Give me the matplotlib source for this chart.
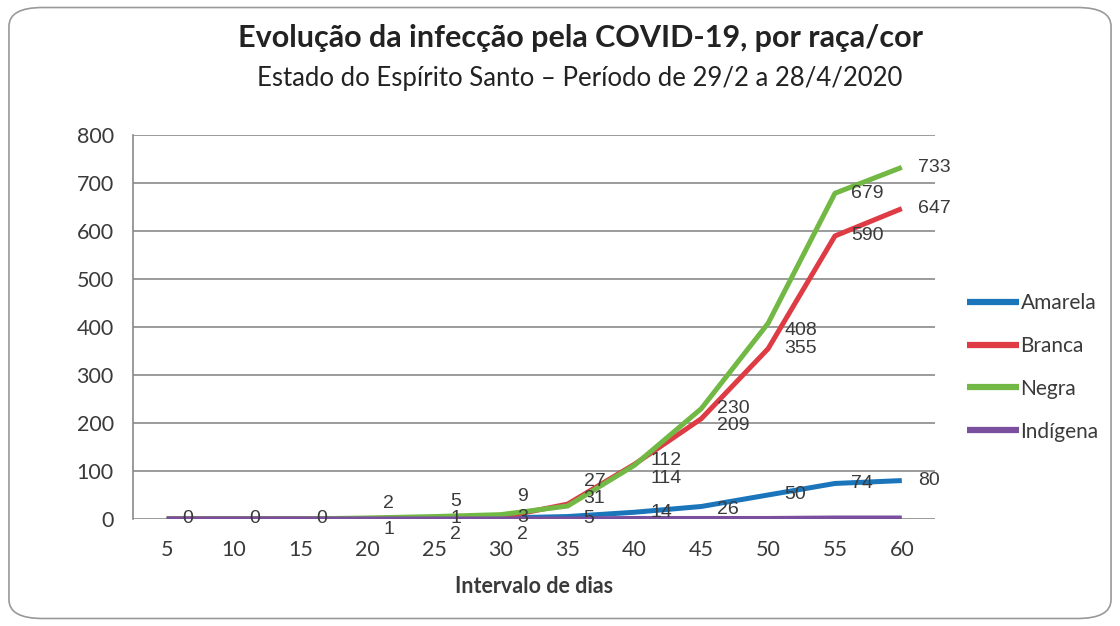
import matplotlib
matplotlib.use("Agg")
import matplotlib.pyplot as plt
from matplotlib.patches import FancyBboxPatch

days = [5, 10, 15, 20, 25, 30, 35, 40, 45, 50, 55, 60]
amarela = [0, 0, 0, 0, 2, 2, 5, 14, 26, 50, 74, 80]
branca = [0, 0, 0, 1, 1, 3, 31, 114, 209, 355, 590, 647]
negra = [0, 0, 0, 2, 5, 9, 27, 112, 230, 408, 679, 733]
indigena = [0, 0, 0, 0, 0, 0, 0, 1, 1, 1, 2, 2]

# which points carry a data label, and vertical nudge of the label (pixels, + = up)
negra_show = [1, 1, 1, 1, 1, 1, 1, 1, 1, 1, 1, 1]
negra_dy = [0, 0, 0, 14, 15, 18, 25, 5, 0, -7, 0, 0]
branca_show = [0, 0, 0, 1, 1, 1, 1, 1, 1, 1, 1, 1]
branca_dy = [0, 0, 0, -11, 0, 0, 6, -14, -7, 0, 0, 0]
amarela_show = [0, 0, 0, 0, 1, 1, 1, 1, 1, 1, 1, 1]
amarela_dy = [0, 0, 0, 0, -17, -17, -2, 0, -3, 0, 0, 0]

series = [
    ("Amarela", amarela, "#1b75bb"),
    ("Branca", branca, "#de3b45"),
    ("Negra", negra, "#72b844"),
    ("Indígena", indigena, "#7a4f9e"),
]

plt.rcParams["font.family"] = ["Lato", "DejaVu Sans"]
txt = "#3a3a3a"

fig = plt.figure(figsize=(11.2, 6.26), dpi=100)
ax = fig.add_axes([0.119, 0.171, 0.716, 0.613])

for name, vals, color in series:
    ax.plot(days, vals, color=color, lw=3.6, label=name, solid_capstyle="butt")

label_sets = [
    (negra, negra_show, negra_dy),
    (branca, branca_show, branca_dy),
    (amarela, amarela_show, amarela_dy),
]
for vals, show, dy in label_sets:
    for x, v, s, d in zip(days, vals, show, dy):
        if not s:
            continue
        ax.annotate(str(v), (x, v), xytext=(16, d), textcoords="offset pixels",
                    ha="left", va="center", fontsize=14, color=txt,
                    family=["Liberation Sans", "DejaVu Sans"])

ax.set_xlim(2.5, 62.5)
ax.set_ylim(0, 800)
ax.set_xticks(days)
ax.set_yticks(range(0, 801, 100))
ax.grid(axis="y", color="#8a8a8a", lw=1.2)
ax.set_axisbelow(True)
for side in ["top", "right", "bottom"]:
    ax.spines[side].set_visible(False)
ax.spines["left"].set_color("#8a8a8a")
ax.spines["left"].set_linewidth(1.2)
ax.tick_params(axis="both", length=0, labelsize=15.5, colors=txt)
ax.tick_params(axis="y", pad=14)
ax.tick_params(axis="x", pad=15)
ax.set_xlabel("Intervalo de dias", fontsize=15.5, fontweight="bold", color=txt, labelpad=12)

fig.text(0.518, 0.94, "Evolução da infecção pela COVID-19, por raça/cor",
         ha="center", va="center", fontsize=22, fontweight="bold", color="#222222")
fig.text(0.518, 0.875, "Estado do Espírito Santo – Período de 29/2 a 28/4/2020",
         ha="center", va="center", fontsize=18.5, color="#222222")

fig.legend(loc="upper left", bbox_to_anchor=(0.847, 0.562), frameon=False,
           fontsize=15, handlelength=2.5, handletextpad=0.05, labelspacing=1.1,
           labelcolor=txt)
for line in fig.legends[0].get_lines():
    line.set_linewidth(4.5)

border = FancyBboxPatch((0.008, 0.012), 0.984, 0.976, boxstyle="round,pad=0,rounding_size=0.03",
                        transform=fig.transFigure, fill=False, edgecolor="#999999", lw=1.2)
fig.patches.append(border)

fig.savefig("out.png", dpi=100)
